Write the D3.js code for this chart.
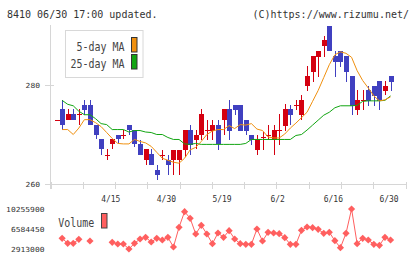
<!DOCTYPE html>
<html>
<head>
<meta charset="utf-8">
<script src="https://cdn.jsdelivr.net/npm/d3@7"></script>
<style>
  body { margin: 0; background: #fff; }
  svg { display: block; font-family: "DejaVu Sans Mono", monospace; }
</style>
</head>
<body>
<svg id="chart" width="420" height="259"></svg>
<script>
// trading days shown (index 0..60)
const dates = [
  "4/1","4/2","4/3","4/4","4/7","4/8","4/9","4/10","4/11","4/14",
  "4/15","4/16","4/17","4/18","4/21","4/22","4/23","4/24","4/25","4/28",
  "4/30","5/1","5/2","5/7","5/8","5/9","5/12","5/13","5/14","5/16",
  "5/19","5/20","5/21","5/22","5/23","5/26","5/27","5/28","5/29","5/30",
  "6/2","6/3","6/4","6/5","6/6","6/9","6/10","6/11","6/12","6/13",
  "6/16","6/17","6/18","6/19","6/20","6/23","6/24","6/25","6/26","6/27",
  "6/30"
];
const tickLabels = ["4/15", "4/30", "5/19", "6/2", "6/16", "6/30"];

const open = [
  273.1, 275.2, 273.1, 274.2, 274.2, 276.0, 276.0, 272.1, 269.1, 266.0,
  268.1, 270.1, 270.1, 272.1, 271.1, 268.1, 264.9, 266.1, 263.0, 265.9,
  265.0, 265.0, 265.0, 266.9, 271.1, 268.9, 270.0, 271.1, 270.9, 272.1,
  273.0, 275.2, 276.0, 276.0, 273.0, 270.0, 266.9, 269.6, 270.1, 268.9,
  271.1, 271.9, 275.2, 276.0, 274.0, 279.8, 282.8, 285.8, 287.9, 292.1,
  286.0, 287.0, 286.0, 282.0, 275.0, 277.0, 279.0, 280.0, 281.0, 278.8,
  282.0
];
const high = [
  273.1, 277.0, 275.2, 275.2, 275.2, 277.0, 277.0, 272.1, 269.1, 267.1,
  269.1, 270.1, 271.1, 272.1, 271.1, 268.9, 267.1, 267.1, 264.0, 266.9,
  266.0, 267.0, 267.0, 271.1, 272.1, 271.1, 275.2, 273.1, 273.1, 273.1,
  275.2, 277.0, 276.0, 276.0, 273.0, 270.0, 269.9, 270.6, 272.1, 272.1,
  274.2, 276.2, 276.0, 277.0, 278.0, 284.0, 286.0, 287.0, 290.1, 292.1,
  287.0, 287.0, 286.0, 282.0, 279.0, 279.0, 280.0, 280.0, 281.0, 281.0,
  282.0
];
const low = [
  273.1, 271.1, 273.1, 273.1, 272.1, 274.0, 272.1, 269.1, 266.0, 265.0,
  267.1, 268.1, 269.1, 270.1, 267.5, 265.9, 263.9, 263.9, 260.9, 264.9,
  261.9, 261.9, 261.9, 265.5, 265.9, 267.1, 269.0, 269.0, 269.0, 266.9,
  269.9, 268.9, 274.0, 270.9, 269.9, 267.9, 265.9, 266.9, 268.9, 265.9,
  267.9, 270.9, 272.0, 275.0, 273.0, 278.8, 280.8, 281.8, 285.8, 286.9,
  281.8, 283.8, 280.8, 274.0, 274.0, 275.0, 275.8, 275.8, 275.0, 278.0,
  278.8
];
const close = [
  273.1, 272.1, 274.2, 273.1, 274.2, 275.0, 272.1, 270.1, 267.1, 266.0,
  269.1, 269.1, 270.1, 271.1, 268.1, 265.9, 267.1, 263.9, 261.9, 265.9,
  263.9, 267.0, 267.0, 271.1, 267.9, 270.1, 274.2, 271.1, 272.1, 268.1,
  275.2, 270.9, 275.0, 270.9, 270.9, 268.9, 269.1, 269.6, 270.1, 271.1,
  271.1, 275.2, 274.0, 276.0, 277.0, 282.0, 286.0, 287.0, 289.1, 286.9,
  284.8, 284.8, 282.8, 275.8, 277.0, 277.0, 276.8, 277.8, 276.8, 280.0,
  280.8
];
const ma5 = [
  null, 271.1, 271.1, 270.1, 271.4, 273.1, 273.1, 272.5, 271.7, 270.5,
  269.3, 268.3, 268.2, 268.2, 269.1, 268.7, 268.4, 267.7, 266.5, 265.3,
  264.9, 264.5, 264.3, 265.3, 267.0, 267.5, 268.7, 270.1, 270.8, 271.1,
  271.1, 271.9, 271.3, 272.1, 272.0, 272.3, 271.2, 270.9, 269.6, 269.4,
  269.4, 270.2, 271.4, 272.4, 273.5, 274.6, 276.8, 279.0, 281.6, 284.2,
  286.2, 286.8, 286.5, 285.7, 283.0, 281.0, 279.5, 277.9, 276.9, 277.1,
  277.7
];
const ma25 = [
  null, 277.0, 276.2, 275.9, 274.8, 274.1, 274.1, 273.3, 272.3, 272.1,
  271.1, 271.1, 271.1, 270.6, 270.9, 270.9, 270.6, 270.5, 270.1, 270.1,
  269.5, 269.1, 269.1, 268.2, 268.1, 268.3, 268.1, 268.1, 268.1, 268.1,
  268.1, 268.1, 268.1, 268.1, 268.3, 269.1, 269.1, 269.1, 269.1, 269.1,
  269.1, 269.1, 269.1, 269.9, 270.1, 271.0, 272.0, 273.0, 274.0, 274.6,
  275.5, 275.9, 275.9, 275.9, 276.0, 276.8, 276.9, 276.9, 276.9, 277.0,
  277.9
];
const volume = [
  null, 4877000, 3959000, 3959000, 4694000, null, 4382000, null, null, null,
  4143000, 3831000, 3831000, 2913000, 3959000, 4749000, 5061000, 4198000, 4877000, 4565000,
  5061000, 3280000, 6897000, 9760000, 8549000, 5667000, 7264000, 5667000, 3886000, 5850000,
  5061000, 6272000, 4749000, 3886000, 3776000, 3776000, 6584000, 4382000, 5979000, 5850000,
  5722000, 4987000, 3776000, 3776000, 6346000, 6952000, 6823000, 6529000, 5795000, 5979000,
  4437000, 3152000, 5795000, 10255900, 3886000, 4877000, 4565000, 3776000, 3592000, 5061000,
  4565000
];
const priceTicks = [260, 280];
const volTicks = [2913000, 6584450, 10255900];

const UP = "#d40010", DOWN = "#4040c0", AXIS = "#d6d6d6", TXT = "#333";
const ORANGE = "#f0900f", GREEN = "#12a512", VOL = "#ff5f5f";

const svg = d3.select("#chart");

const x = d3.scaleLinear().domain([-1, 62.6]).range([51, 405]);
const y = d3.scaleLinear().domain([260, 280]).range([184.5, 85.5]);
const yv = d3.scaleLinear().domain([2913000, 10255900]).range([249, 209]);
const xt = d3.scaleLinear().domain([0, 11]).range([50.5, 405.5]);

// header
svg.append("text").attr("x", 7).attr("y", 17.5)
  .attr("font-size", 10).attr("fill", TXT)
  .text("8410 06/30 17:00 updated.");
svg.append("text").attr("x", 409).attr("y", 17.5)
  .attr("text-anchor", "end")
  .attr("font-size", 10).attr("fill", TXT)
  .text("(C)https://www.rizumu.net/");

// axes
const axes = svg.append("g").attr("stroke", AXIS).attr("shape-rendering", "crispEdges");
axes.append("line").attr("x1", 50.5).attr("x2", 50.5).attr("y1", 25).attr("y2", 189);
axes.append("line").attr("x1", 45).attr("x2", 406).attr("y1", 184.5).attr("y2", 184.5);
axes.selectAll(".yt").data(priceTicks).enter().append("line")
  .attr("x1", 45).attr("x2", 54)
  .attr("y1", d => y(d)).attr("y2", d => y(d));
axes.selectAll(".xt").data(d3.range(12)).enter().append("line")
  .attr("x1", d => Math.round(xt(d)) + 0.5).attr("x2", d => Math.round(xt(d)) + 0.5)
  .attr("y1", 182).attr("y2", 189);

svg.selectAll(".ylab").data(priceTicks).enter().append("text")
  .attr("x", 40).attr("y", d => y(d) + 2.5)
  .attr("text-anchor", "end").attr("font-size", 7).attr("fill", TXT)
  .attr("textLength", 14.4).attr("lengthAdjust", "spacingAndGlyphs")
  .text(d => d);

svg.selectAll(".xlab").data(tickLabels).enter().append("text")
  .attr("x", d => x(dates.indexOf(d)) - 1.5).attr("y", 201.5)
  .attr("text-anchor", "middle").attr("font-size", 8).attr("fill", TXT)
  .attr("textLength", d => d.length * 4.8).attr("lengthAdjust", "spacingAndGlyphs")
  .text(d => d);

// candles
const candles = svg.append("g").attr("shape-rendering", "crispEdges");
dates.forEach((d, i) => {
  const cx = Math.round(x(i));
  const col = close[i] < open[i] ? DOWN : UP;
  const g = candles.append("g");
  if (high[i] > low[i]) {
    g.append("line").attr("x1", cx + 0.5).attr("x2", cx + 0.5)
      .attr("y1", y(high[i])).attr("y2", y(low[i]))
      .attr("stroke", col);
  }
  if (open[i] === close[i]) {
    g.append("line").attr("x1", cx - 2).attr("x2", cx + 3)
      .attr("y1", Math.round(y(close[i])) + 0.5).attr("y2", Math.round(y(close[i])) + 0.5)
      .attr("stroke", col);
  } else {
    const top = y(Math.max(open[i], close[i]));
    const bot = y(Math.min(open[i], close[i]));
    g.append("rect").attr("x", cx - 2).attr("width", 5)
      .attr("y", top).attr("height", Math.max(1, bot - top))
      .attr("fill", col);
  }
});

// moving averages
const maLine = d3.line().defined(d => d != null).x((d, i) => x(i)).y(d => y(d));
svg.append("path").datum(ma25).attr("d", maLine)
  .attr("fill", "none").attr("stroke", GREEN).attr("stroke-width", 1);
svg.append("path").datum(ma5).attr("d", maLine)
  .attr("fill", "none").attr("stroke", ORANGE).attr("stroke-width", 1);

// MA legend
const leg = svg.append("g");
leg.append("rect").attr("x", 65.5).attr("y", 30.5).attr("width", 77.5).attr("height", 47)
  .attr("fill", "#fff").attr("stroke", "#d8d8d8");
[["5-day MA", ORANGE, 50.5, 37.5], ["25-day MA", GREEN, 67.7, 54.5]].forEach(([t, c, by, ry]) => {
  leg.append("text").attr("x", 124.5).attr("y", by)
    .attr("text-anchor", "end").attr("font-size", 12).attr("fill", "#444")
    .attr("textLength", t.length * 6).attr("lengthAdjust", "spacingAndGlyphs")
    .text(t);
  leg.append("rect").attr("x", 131.5).attr("y", ry).attr("width", 5.5).attr("height", 14.5)
    .attr("fill", c).attr("stroke", "#333");
});

// volume
const volLine = d3.line().defined(d => d != null).x((d, i) => x(i)).y(d => yv(d));
svg.append("path").datum(volume).attr("d", volLine)
  .attr("fill", "none").attr("stroke", VOL).attr("stroke-width", 1);
svg.selectAll(".vdot").data(volume.map((v, i) => [i, v]).filter(d => d[1] != null))
  .enter().append("path")
  .attr("transform", d => `translate(${x(d[0])},${yv(d[1])})`)
  .attr("d", "M0,-3.6L3.6,0L0,3.6L-3.6,0Z")
  .attr("fill", VOL);

svg.selectAll(".vlab").data(volTicks).enter().append("text")
  .attr("x", 44.5).attr("y", d => yv(d) + 2.7)
  .attr("text-anchor", "end").attr("font-size", 7).attr("fill", TXT)
  .attr("textLength", d => String(d).length * 4.8).attr("lengthAdjust", "spacingAndGlyphs")
  .text(d => d);

svg.append("text").attr("x", 58.3).attr("y", 226.5)
  .attr("font-size", 12).attr("fill", "#444")
  .attr("textLength", 36).attr("lengthAdjust", "spacingAndGlyphs")
  .text("Volume");
svg.append("rect").attr("x", 101.5).attr("y", 213.5).attr("width", 5.5).attr("height", 14.5)
  .attr("fill", VOL).attr("stroke", "#444");
</script>
</body>
</html>
